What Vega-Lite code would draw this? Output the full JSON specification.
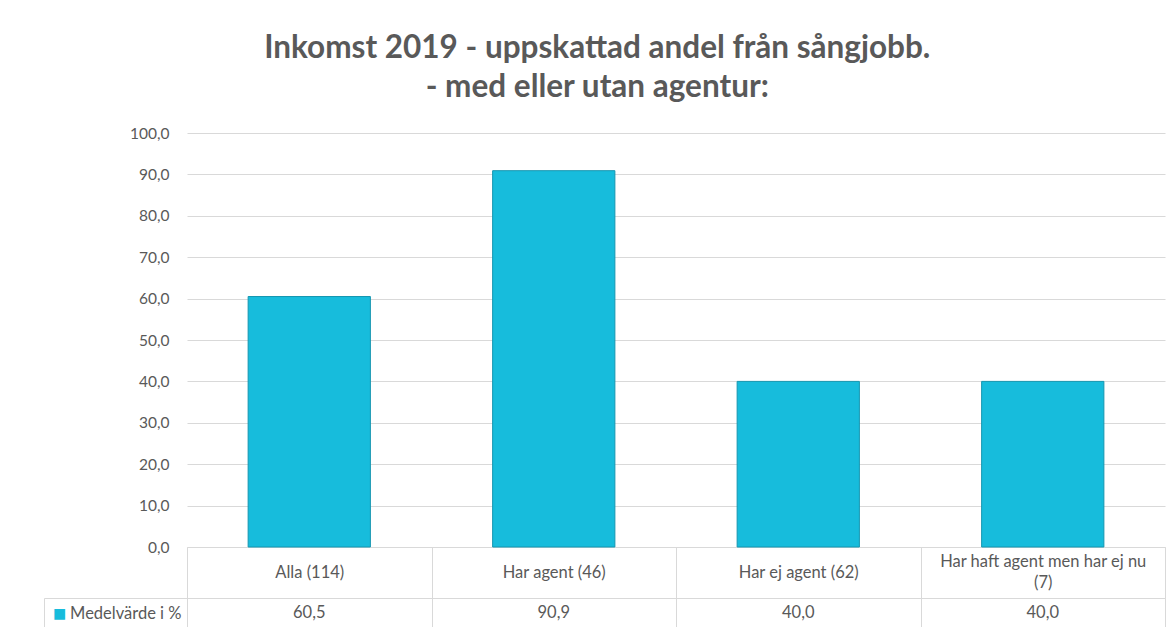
{
  "$schema": "https://vega.github.io/schema/vega-lite/v6.json",
  "padding": {"left": 43, "top": 32, "right": 5, "bottom": 0},
  "background": "white",
  "title": {
    "text": ["Inkomst 2019 - uppskattad andel från sångjobb.", "- med eller utan agentur:"],
    "font": "Lato",
    "fontSize": 31.5,
    "fontWeight": "bold",
    "color": "#595959",
    "lineHeight": 39,
    "anchor": "middle",
    "dx": -7,
    "offset": 23
  },
  "datasets": {
    "table": [
      {"grupp": "Alla (114)", "serie": "Medelvärde i %", "varde": 60.5},
      {"grupp": "Har agent (46)", "serie": "Medelvärde i %", "varde": 90.9},
      {"grupp": "Har ej agent (62)", "serie": "Medelvärde i %", "varde": 40.0},
      {"grupp": "Har haft agent men har ej nu (7)", "serie": "Medelvärde i %", "varde": 40.0}
    ]
  },
  "bounds": "flush",
  "spacing": 51,
  "vconcat": [
    {
      "width": 978,
      "height": 414,
      "view": {"stroke": null},
      "data": {"name": "table"},
      "mark": {"type": "bar", "color": "#17BCDC", "stroke": "#1596B0", "strokeWidth": 1, "width": {"band": 0.5}},
      "encoding": {
        "x": {
          "field": "grupp",
          "type": "nominal",
          "sort": null,
          "scale": {"paddingInner": 0, "paddingOuter": 0},
          "axis": {
            "title": null,
            "labelAngle": 0,
            "tickBand": "extent",
            "tickExtra": true,
            "tickSize": 51,
            "tickColor": "#D9D9D9",
            "domainColor": "#D9D9D9",
            "labelBaseline": "middle",
            "labelPadding": {"condition": {"test": "datum.value == 'Har haft agent men har ej nu (7)'", "value": -36.5}, "value": -26},
            "labelFont": "Lato",
            "labelFontSize": 16.5,
            "labelColor": "#595959",
            "labelLimit": 240,
            "labelLineHeight": 21,
            "labelExpr": "datum.value == 'Har haft agent men har ej nu (7)' ? ['Har haft agent men har ej nu', '(7)'] : datum.value"
          }
        },
        "y": {
          "field": "varde",
          "type": "quantitative",
          "scale": {"domain": [0, 100]},
          "axis": {
            "title": null,
            "values": [0, 10, 20, 30, 40, 50, 60, 70, 80, 90, 100],
            "format": ".1f",
            "ticks": false,
            "domain": false,
            "labelPadding": 18,
            "labelFont": "Lato",
            "labelFontSize": 15.5,
            "labelColor": "#595959",
            "gridColor": "#D9D9D9",
            "gridWidth": 1
          }
        }
      }
    },
    {
      "width": 978,
      "height": 30,
      "data": {"name": "table"},
      "resolve": {"scale": {"y": "independent"}, "axis": {"y": "independent"}},
      "layer": [
        {
          "mark": {"type": "text", "font": "Lato", "fontSize": 16.5, "color": "#595959"},
          "encoding": {
            "x": {
              "field": "grupp",
              "type": "nominal",
              "sort": null,
              "scale": {"paddingInner": 0, "paddingOuter": 0},
              "axis": {
                "title": null,
                "labels": false,
                "ticks": false,
                "domain": false,
                "grid": true,
                "tickBand": "extent",
                "tickExtra": true,
                "gridColor": "#D9D9D9"
              }
            },
            "y": {
              "field": "serie",
              "type": "nominal",
              "axis": {
                "title": "■",
                "titleColor": "#17BCDC",
                "titleFont": "DejaVu Sans",
                "titleFontSize": 14,
                "titleFontWeight": "normal",
                "titleAngle": 0,
                "titleAlign": "left",
                "titleBaseline": "middle",
                "titlePadding": -9,
                "tickBand": "extent",
                "tickExtra": true,
                "tickSize": 143,
                "tickColor": "#D9D9D9",
                "domainColor": "#D9D9D9",
                "labelPadding": -137,
                "labelFont": "Lato",
                "labelFontSize": 16.5,
                "labelColor": "#595959"
              }
            },
            "text": {"field": "varde", "type": "quantitative", "format": ".1f"}
          }
        },
        {
          "mark": {"type": "text", "text": ""},
          "encoding": {
            "x": {"field": "grupp", "type": "nominal", "sort": null},
            "y": {
              "field": "serie",
              "type": "nominal",
              "axis": {
                "title": null,
                "orient": "left",
                "offset": 143,
                "labels": false,
                "ticks": false,
                "domain": true,
                "domainColor": "#D9D9D9"
              }
            }
          }
        }
      ]
    }
  ],
  "config": {
    "locale": {"number": {"decimal": ",", "thousands": " ", "grouping": [3], "currency": ["", ""]}},
    "view": {"stroke": "#D9D9D9"},
    "axis": {"gridColor": "#D9D9D9"}
  }
}
